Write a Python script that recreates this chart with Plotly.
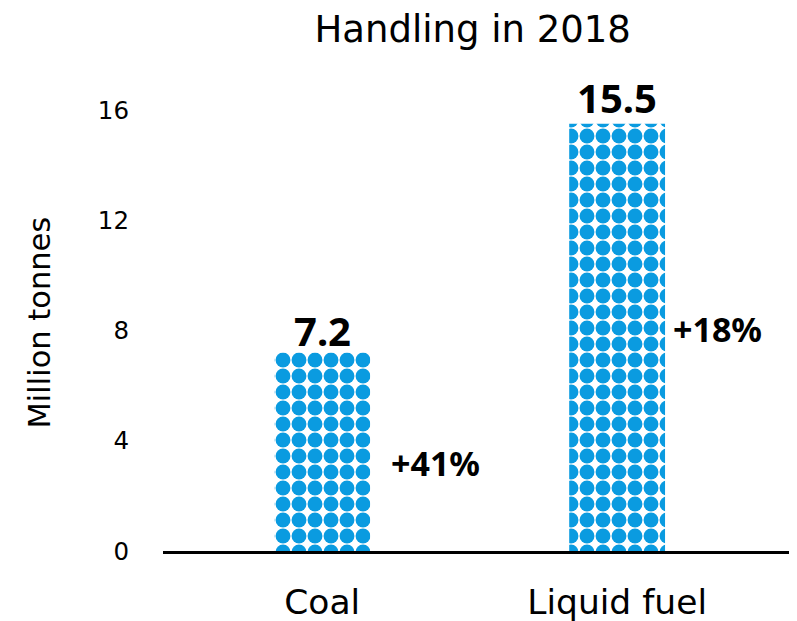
import plotly.graph_objects as go

categories = ["Coal", "Liquid fuel"]
values = [7.2, 15.5]
changes = ["+41%", "+18%"]
tick_vals = [0, 4, 8, 12, 16]

FONT = "DejaVu Sans"
BOLD = "Noto Sans"
BLUE = "#0a9be0"

fig = go.Figure()
fig.add_trace(go.Bar(
    x=categories, y=values, width=0.325,
    marker=dict(color="white", line=dict(width=0),
                pattern=dict(shape=".", fgcolor=BLUE, bgcolor="white", fgopacity=1,
                             size=16, solidity=0.68, fillmode="overlay")),
    hoverinfo="skip",
))

annotations = []
label_shift = [-7, -3]
for c, v, s in zip(categories, values, label_shift):
    annotations.append(dict(x=c, y=v, text=f"<b>{v}</b>", showarrow=False,
                            yanchor="bottom", yshift=s,
                            font=dict(family=BOLD, size=40, color="black")))
pct_pos = [(0.383, 3.19), (1.339, 8.05)]
for (px, py), t in zip(pct_pos, changes):
    annotations.append(dict(x=px, y=py, xref="x", yref="y", text=f"<b>{t}</b>",
                            showarrow=False, font=dict(family=BOLD, size=34, color="black")))
annotations.append(dict(x=-0.194, y=0.485, xref="paper", yref="paper", text="Million tonnes",
                        textangle=-90, showarrow=False, xanchor="center", yanchor="middle",
                        font=dict(family=FONT, size=30.5, color="black")))

fig.update_layout(
    width=789, height=613,
    margin=dict(l=155, r=0, t=72, b=70),
    paper_bgcolor="white", plot_bgcolor="white",
    title=dict(text="Handling in 2018", x=0.589, xanchor="center", y=0.966, yanchor="middle",
               font=dict(family=FONT, size=37, color="black")),
    showlegend=False,
    annotations=annotations,
    xaxis=dict(range=[-0.54, 1.61], showgrid=False, showline=True, linecolor="black",
               linewidth=2.5, ticks="", ticklabelstandoff=19,
               tickfont=dict(family=FONT, size=34.5, color="black")),
    yaxis=dict(range=[0, 17.09], tickvals=tick_vals, showgrid=False, zeroline=False,
               showline=False, ticks="", ticklabelstandoff=33,
               tickfont=dict(family=FONT, size=24.5, color="black")),
)

fig.write_html("out.html")
